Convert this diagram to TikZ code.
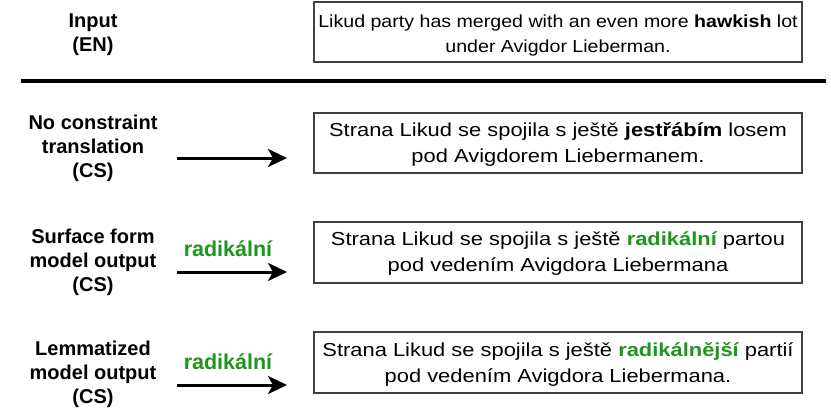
\documentclass[tikz,border=0pt]{standalone}
\usepackage{fontspec}
\setmainfont{Liberation Sans}
\newfontfamily\boxfont[FakeStretch=1.165]{Liberation Sans}
\newfontfamily\inboxfont[FakeStretch=1.12]{Liberation Sans}
\usetikzlibrary{arrows.meta}
\definecolor{mygreen}{RGB}{30,150,30}
\tikzset{
  frame/.style={draw=black!75, line width=1.2pt, minimum width=488pt, inner sep=0pt},
  senttext/.style={inner sep=0pt, align=center, font=\boxfont\fontsize{18.8}{26}\selectfont},
  intext/.style={inner sep=0pt, align=center, font=\inboxfont\fontsize{17.5}{24.7}\selectfont},
  rowlabel/.style={align=center, inner sep=0pt, font=\fontsize{20}{24}\selectfont\bfseries},
  conlabel/.style={inner sep=0pt, anchor=base, text=mygreen, font=\fontsize{21.5}{24}\selectfont\bfseries},
  arr/.style={line width=3pt, -{Stealth[length=19pt, width=18pt, inset=5pt]}},
  sep/.style={line width=3.6pt}
}
\begin{document}
\begin{tikzpicture}[x=1pt, y=-1pt]
\useasboundingbox (0,0) rectangle (831,412);
% input row
\node[rowlabel] (linput) at (93,34.5) {Input\\(EN)};
\node[frame, minimum height=60pt] (binput) at (558,32) {};
\node[intext] (tinput) at ([yshift=-3.5pt]binput.center) {Likud party has merged with an even more \textbf{hawkish} lot\\under Avigdor Lieberman.};
% separator
\coordinate (sepl) at (21,81);
\coordinate (sepr) at (826,81);
\draw[sep] (sepl) -- (sepr);
% row 1
\node[rowlabel] (l1) at (93,148) {No constraint\\translation\\(CS)};
\node[frame, minimum height=60pt] (b1) at (558,143) {};
\node[senttext] (t1) at ([yshift=-1.5pt]b1.center) {Strana Likud se spojila s ještě \textbf{jestřábím} losem\\pod Avigdorem Liebermanem.};
\coordinate (a1s) at (177,158);
\coordinate (a1e) at (287,158);
\draw[arr] (a1s) -- (a1e);
% row 2
\node[rowlabel] (l2) at (93,262.5) {Surface form\\model output\\(CS)};
\node[frame, minimum height=61pt] (b2) at (558,252.5) {};
\node[senttext] (t2) at ([yshift=-1.5pt]b2.center) {Strana Likud se spojila s ještě \textbf{\color{mygreen}radikální} partou\\pod vedením Avigdora Liebermana};
\coordinate (a2s) at (177,272);
\coordinate (a2e) at (287,272);
\draw[arr] (a2s) -- (a2e);
\node[conlabel] (c2) at (228,256) {radikální};
% row 3
\node[rowlabel] (l3) at (93,374) {Lemmatized\\model output\\(CS)};
\node[frame, minimum height=61pt] (b3) at (558,362.5) {};
\node[senttext] (t3) at ([yshift=-1.5pt]b3.center) {Strana Likud se spojila s ještě \textbf{\color{mygreen}radikálnější} partií\\pod vedením Avigdora Liebermana.};
\coordinate (a3s) at (177,385);
\coordinate (a3e) at (287,385);
\draw[arr] (a3s) -- (a3e);
\node[conlabel] (c3) at (228,369) {radikální};
\end{tikzpicture}
\end{document}
